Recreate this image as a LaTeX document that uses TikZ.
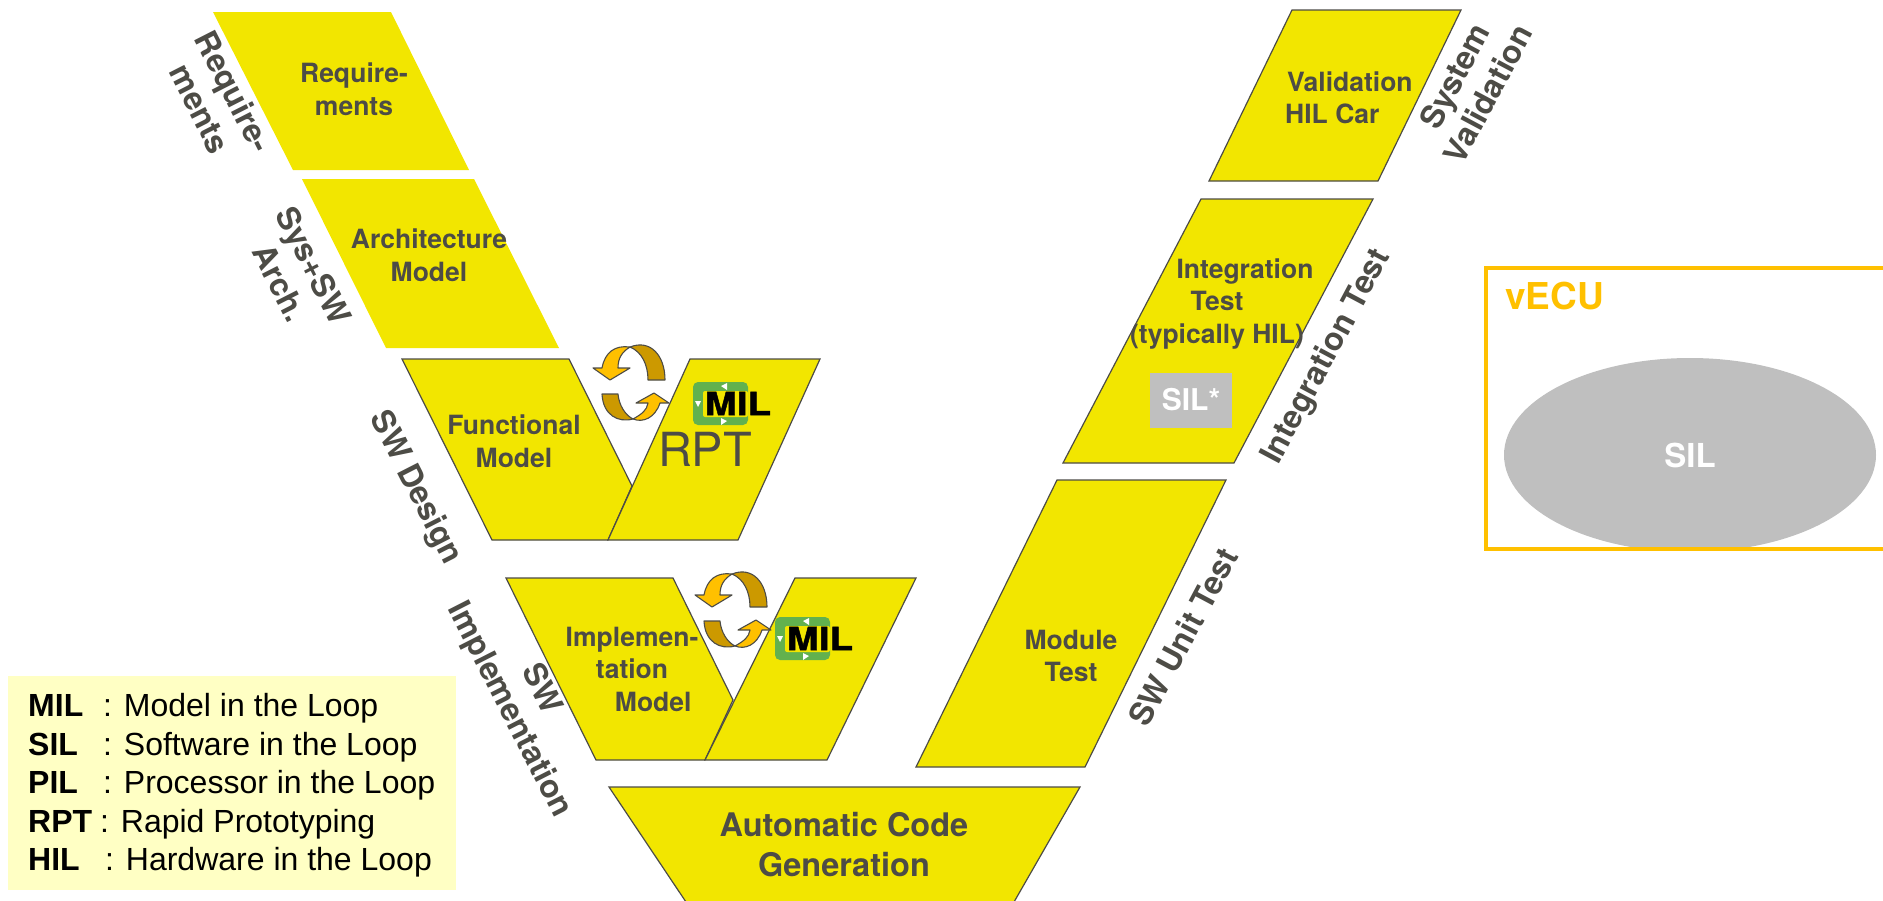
\documentclass[tikz,border=0pt]{standalone}
\usepackage{fontspec}
\setmainfont{TeX Gyre Heros}
\newfontfamily\legendfont{Liberation Sans}
\usepackage{tikz}
\usetikzlibrary{positioning,shapes}
\definecolor{phaseyellow}{HTML}{F2E600}
\definecolor{darktext}{HTML}{4D4C46}
\definecolor{loopgold}{HTML}{FFC000}
\definecolor{loopbrown}{HTML}{CC9900}
\definecolor{milgreen}{HTML}{62B14E}
\definecolor{legendfill}{HTML}{FFFFC4}
\definecolor{silgray}{HTML}{BFBFBF}

\begin{document}
\begin{tikzpicture}[x=1pt,y=-1pt]
	\tikzstyle{phase}
	  =[fill=phaseyellow, draw=darktext, line width=1.2pt, line join=miter]
	\tikzstyle{phaseplain}
	  =[fill=phaseyellow]
	\tikzstyle{item}
	  =[text=darktext, font=\bfseries\fontsize{26.5}{32.5}\selectfont, align=center, inner sep=0pt]
	\tikzstyle{side}
	  =[text=darktext, font=\bfseries\fontsize{32}{38}\selectfont, align=center, inner sep=0pt]
	\tikzstyle{loopline}
	  =[draw=darktext, line width=1.1pt, line join=round]
	\tikzstyle{keyline}
	  =[anchor=base west, inner sep=0pt, font=\legendfont\fontsize{32}{38}\selectfont]
	\tikzstyle{milmark}
	  =[fill=white]
	\tikzstyle{milword}
	  =[text=black, inner sep=0pt, font=\bfseries\fontsize{32}{32}\selectfont]

	\useasboundingbox (0,0) rectangle (1883,900);

	\fill[phaseplain] (213,12) -- (391,12) -- (469,170) -- (293,170) -- cycle;
	\fill[phaseplain] (302,179) -- (474,179) -- (559,348) -- (386,348) -- cycle;
	\draw[phase] (402,359) -- (569,359) -- (632,486) -- (608,540) -- (492,540) -- cycle;
	\draw[phase] (690,359) -- (820,359) -- (738,540) -- (608,540) -- cycle;
	\draw[phase] (506,578) -- (673,578) -- (733,700) -- (705,760) -- (596,760) -- cycle;
	\draw[phase] (795,578) -- (916,578) -- (827,760) -- (705,760) -- cycle;
	\draw[phase] (609,787) -- (1080,787) -- (1014,902) -- (686,902) -- cycle;
	\draw[phase] (1292,10) -- (1461,10) -- (1378,181) -- (1209,181) -- cycle;
	\draw[phase] (1201,199) -- (1373,199) -- (1234,463) -- (1063,463) -- cycle;
	\draw[phase] (1057,480) -- (1226,480) -- (1085,767) -- (916,767) -- cycle;

	\foreach \dx/\dy in {0/0,102/227} {
	\begin{scope}[shift={(\dx,\dy)}]
	  \path[loopline,fill=loopbrown] (630,347)
	    .. controls (650,339) and (665,355) .. (665,380)
	    -- (648,380) .. controls (648,365) and (642,352) .. (630,347) -- cycle;
	  \path[loopline,fill=loopgold] (593,368) -- (602,368)
	    .. controls (605,352) and (615,345) .. (630,347)
	    .. controls (622,352) and (618,358) .. (618,368)
	    -- (630,368) -- (610,380) -- cycle;
	  \path[loopline,fill=loopbrown] (602,394) -- (618,394)
	    .. controls (619,405) and (625,415) .. (633,419)
	    .. controls (618,423) and (603,415) .. (602,394) -- cycle;
	  \path[loopline,fill=loopgold] (636,403) -- (654,393) -- (669,403) -- (660,403)
	    .. controls (655,418) and (643,423) .. (633,419)
	    .. controls (642,414) and (647,410) .. (648,403) -- cycle;
	\end{scope}
	}

	\foreach \dx/\dy in {0/0,82/235} {
	\begin{scope}[shift={(\dx,\dy)}]
	  \fill[milgreen, rounded corners=5pt] (693,382) rectangle (748,425);
	  \fill[phaseyellow, rounded corners=2pt] (703,391) rectangle (748,417);
	  \fill[milmark] (721,386) -- (727,383) -- (727,390) -- cycle;
	  \fill[milmark] (695,401) -- (701,401) -- (698,407) -- cycle;
	  \fill[milmark] (727,421) -- (721,418) -- (721,425) -- cycle;
	\end{scope}
	}
	\node[milword] (mil1) at (738,403.5) {\addfontfeature{FakeStretch=1.2,FakeBold=1.5}MIL};
	\node[milword] (mil2) at (820,638.5) {\addfontfeature{FakeStretch=1.2,FakeBold=1.5}MIL};

	\node[item] (req) at (354,89) {Require-\\ments};
	\node[item] (arch) at (429,255) {Architecture\\Model};
	\node[item] (func) at (514,441) {Functional\\Model};
	\node[text=darktext, inner sep=0pt, font=\fontsize{47}{47}\selectfont] (rpt) at (705,449) {RPT};
	\node[item] (impl) at (632,669) {Implemen-\\tation\\\hspace*{1.6em}Model};
	\node[item,font=\bfseries\fontsize{32.5}{40}\selectfont] (acg) at (844,845)
	  {Automatic Code\\Generation};
	\node[item,align=left,anchor=west] (val) at (1285,98) {\hspace*{2pt}Validation\\HIL Car};
	\node[item] (integ) at (1217,304) {\hspace*{56pt}Integration\\Test\hspace*{6pt}\\(typically HIL)};
	\node[fill=silgray, text=white, font=\bfseries\fontsize{30}{30}\selectfont, minimum width=82pt, minimum height=55pt, inner sep=0pt] (silstar) at (1191,400) {SIL*};
	\node[item] (mod) at (1071,656) {Module\\Test};

	\node[side, rotate=-63] (sreq) at (217,100) {Require-\\ments};
	\node[side, rotate=-63] (sarch) at (297,274) {Sys+SW\\Arch.};
	\node[side, rotate=-63] (sdes) at (415,488) {SW Design};
	\node[side, rotate=-63] (ssw) at (543,688) {SW};
	\node[side, rotate=-63] (simp) at (509,710) {Implementation};
	\node[side, rotate=62] (sunit) at (1183,637) {SW Unit Test};
	\node[side, rotate=62] (sint) at (1327,357) {Integration Test};
	\node[side, rotate=62] (ssys) at (1471,85) {System\\Validation};

	\fill[legendfill] (8,676) rectangle (456,890);
	\node[keyline] (l1) at (28,716) {\makebox[75pt][l]{\textbf{MIL}}: Model in the Loop};
	\node[keyline] (l2) at (28,755) {\makebox[75pt][l]{\textbf{SIL}}: Software in the Loop};
	\node[keyline] (l3) at (28,793) {\makebox[75pt][l]{\textbf{PIL}}: Processor in the Loop};
	\node[keyline] (l4) at (28,832) {\makebox[72pt][l]{\textbf{RPT}}: Rapid Prototyping};
	\node[keyline] (l5) at (28,870) {\makebox[77pt][l]{\textbf{HIL}}: Hardware in the Loop};

	\begin{scope}
	  \clip (1486,266) rectangle (1883,549);
	  \node[fill=silgray, ellipse, minimum width=372pt, minimum height=194pt, inner sep=0pt] (silarea) at (1690,455) {};
	\end{scope}
	\draw[loopgold, line width=4pt] (1883,268) -- (1486,268) -- (1486,549) -- (1883,549);
	\node[anchor=base west, text=loopgold, inner sep=0pt, font=\bfseries\fontsize{37}{37}\selectfont] (vecu) at (1505,309) {vECU};
	\node[text=white, inner sep=0pt, font=\bfseries\fontsize{33}{33}\selectfont] (sil) at (1690,455) {SIL};
\end{tikzpicture}
\end{document}
